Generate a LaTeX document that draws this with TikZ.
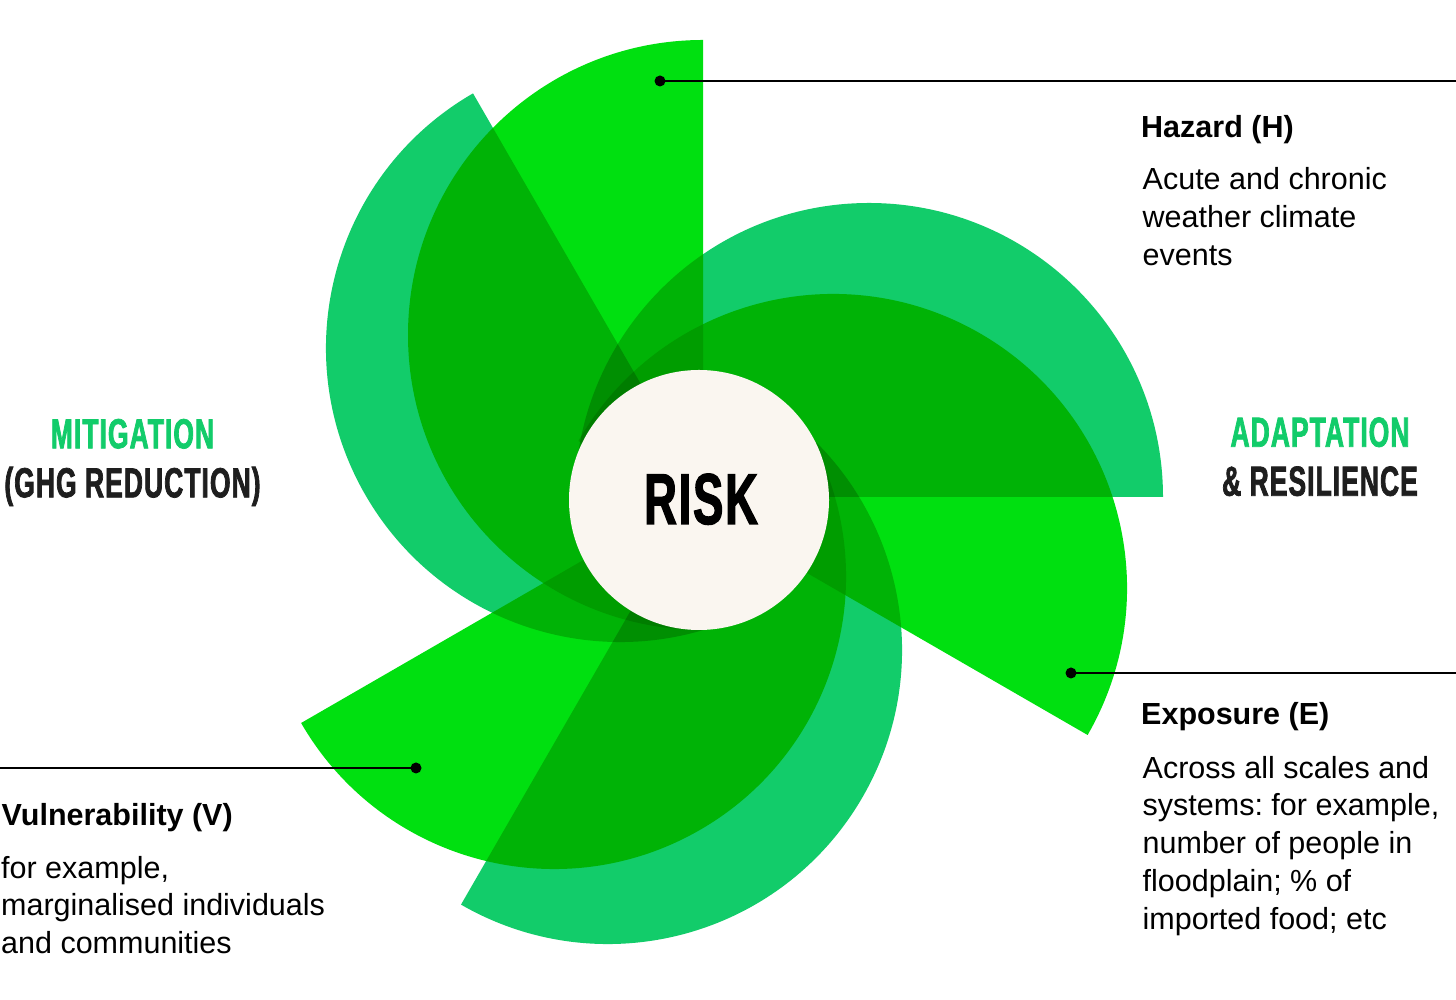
\documentclass[tikz,border=0pt]{standalone}
\usepackage{fontspec}
\setmainfont{Liberation Sans}
\newfontfamily\headfont{Liberation Sans}[FakeStretch=0.63, LetterSpace=2.5, BoldFeatures={FakeBold=1.7}]
\definecolor{brightg}{RGB}{0,224,16}
\definecolor{tealg}{RGB}{18,204,106}
\definecolor{cream}{RGB}{250,246,240}
\definecolor{headgray}{RGB}{30,30,30}
\frenchspacing
\begin{document}
\begin{tikzpicture}[x=1pt,y=1pt,
  bodytxt/.style={anchor=base west, inner sep=0pt, font=\fontsize{30.5}{36}\selectfont},
  titletxt/.style={anchor=base west, inner sep=0pt, font=\fontsize{30.5}{36}\selectfont\bfseries},
  headtxt/.style={anchor=base, inner sep=0pt, font=\headfont\bfseries\fontsize{42}{42}\selectfont},
  dotnode/.style={circle, fill=black, inner sep=0pt, minimum size=11pt},
  leader/.style={line width=1.5pt, black}]
\useasboundingbox (0,0) rectangle (1456,1000);
\fill[white] (0,0) rectangle (1456,1000);

% blades
\begin{scope}[blend group=multiply]
  \fill[tealg] (869,503) ++(0:294) arc[start angle=0, end angle=180, radius=294] -- cycle;
  \fill[tealg] (620,652) ++(120:294) arc[start angle=120, end angle=300, radius=294] -- cycle;
  \fill[tealg] (608,350) ++(240:294) arc[start angle=240, end angle=420, radius=294] -- cycle;
  \fill[brightg] (703,665) ++(90:295) arc[start angle=90, end angle=270, radius=295] -- cycle;
  \fill[brightg] (554,423) ++(210:292) arc[start angle=210, end angle=390, radius=292] -- cycle;
  \fill[brightg] (833,412) ++(-30:294) arc[start angle=-30, end angle=150, radius=294] -- cycle;
\end{scope}

% centre
\node[circle, fill=cream, minimum size=260pt, inner sep=0pt] (risk) at (699,500) {};
\node[anchor=base, inner sep=0pt, font=\headfont\bfseries\fontsize{72}{72}\selectfont] (risklbl) at (701,476) {RISK};

% side headings
\node[headtxt, text=tealg] (mit) at (132.5,551.7) {MITIGATION};
\node[headtxt, text=headgray] (ghg) at (132.5,502.7) {(GHG REDUCTION)};
\node[headtxt, text=tealg] (adapt) at (1320,553.3) {ADAPTATION};
\node[headtxt, text=headgray] (resil) at (1320,504.3) {\& RESILIENCE};

% leaders
\node[dotnode] (hzdot) at (660,919) {};
\coordinate (hzend) at (1456,919);
\draw[leader] (hzdot.center) -- (hzend);
\node[dotnode] (exdot) at (1071,327) {};
\coordinate (exend) at (1456,327);
\draw[leader] (exdot.center) -- (exend);
\node[dotnode] (vudot) at (416,232) {};
\coordinate (vuend) at (0,232);
\draw[leader] (vudot.center) -- (vuend);

% Hazard
\node[titletxt] (hzt) at (1141,862.7) {Hazard (H)};
\node[bodytxt] (hz1) at (1142.5,810) {Acute and chronic};
\node[bodytxt] (hz2) at (1142.5,772.3) {weather climate};
\node[bodytxt] (hz3) at (1142.5,734.6) {events};

% Exposure
\node[titletxt] (ext) at (1141,275) {Exposure (E)};
\node[bodytxt] (ex1) at (1142.5,221.7) {Across all scales and};
\node[bodytxt] (ex2) at (1142.5,184) {systems: for example,};
\node[bodytxt] (ex3) at (1142.5,146) {number of people in};
\node[bodytxt] (ex4) at (1142.5,108) {floodplain; \% of};
\node[bodytxt] (ex5) at (1142.5,70.7) {imported food; etc};

% Vulnerability
\node[titletxt] (vut) at (1.5,174.7) {Vulnerability (V)};
\node[bodytxt] (vu1) at (1,121.7) {for example,};
\node[bodytxt] (vu2) at (1,84.3) {marginalised individuals};
\node[bodytxt] (vu3) at (1,46.7) {and communities};
\end{tikzpicture}
\end{document}
